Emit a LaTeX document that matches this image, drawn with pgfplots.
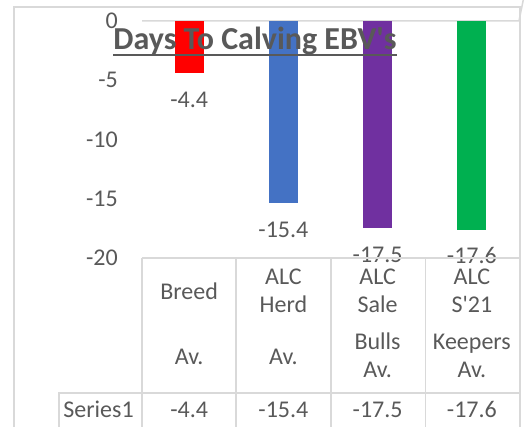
\documentclass[border=0pt]{standalone}
\usepackage{pgfplots}
\pgfplotsset{compat=1.18}
\usepackage{fontspec}
\setmainfont{Carlito}
\definecolor{tg}{HTML}{595959}
\definecolor{lg}{HTML}{D9D9D9}
\definecolor{cred}{HTML}{FF0000}
\definecolor{cblue}{HTML}{4472C4}
\definecolor{cpurple}{HTML}{7030A0}
\definecolor{cgreen}{HTML}{00B050}
\newcommand{\tf}{\fontsize{24}{28}\selectfont}
\tikzset{hdr/.style={anchor=base, font=\tf, text=tg, inner sep=0pt}}
\begin{document}
\begin{tikzpicture}
\useasboundingbox (0pt,0pt) rectangle (525pt,427pt);
% outer chart border
\draw[lg, line width=2pt] (14pt,0pt) -- (14pt,420pt) -- (520pt,420pt) -- (520pt,0pt);
\begin{axis}[
  at={(142pt,169pt)}, anchor=south west,
  scale only axis, width=377pt, height=237pt,
  xmin=-0.5, xmax=3.5, ymin=-20, ymax=0,
  axis line style={draw=none},
  xtick=\empty,
  ytick={-20,-15,-10,-5,0},
  major tick length=0pt,
  /pgf/number format/assume math mode=true,
  yticklabel style={font=\tf, text=tg, anchor=east, inner sep=0pt, xshift=-24pt},
  ybar, bar width=29pt,
  clip=false,
  nodes near coords={\pgfmathprintnumber[fixed,fixed zerofill,precision=1]{\pgfplotspointmeta}},
  nodes near coords align={anchor=base,yshift=-34pt},
  every node near coord/.append style={font=\tf, text=tg, inner sep=0pt},
]
\draw[lg, line width=1.5pt] (rel axis cs:0,1) -- (rel axis cs:1,1) -- ++(1pt,0);
\addplot[fill=cred, draw=none, bar shift=0pt] coordinates {(0,-4.4)};
\addplot[fill=cblue, draw=none, bar shift=0pt] coordinates {(1,-15.4)};
\addplot[fill=cpurple, draw=none, bar shift=0pt] coordinates {(2,-17.5)};
\addplot[fill=cgreen, draw=none, bar shift=0pt] coordinates {(3,-17.6)};
% data table header
\node[hdr, yshift=-42pt] at (axis cs:0,-20) {Breed};
\node[hdr, yshift=-107pt] at (axis cs:0,-20) {Av.};
\node[hdr, yshift=-27pt] at (axis cs:1,-20) {ALC};
\node[hdr, yshift=-55pt] at (axis cs:1,-20) {Herd};
\node[hdr, yshift=-107pt] at (axis cs:1,-20) {Av.};
\node[hdr, yshift=-27pt] at (axis cs:2,-20) {ALC};
\node[hdr, yshift=-55pt] at (axis cs:2,-20) {Sale};
\node[hdr, yshift=-92pt] at (axis cs:2,-20) {Bulls};
\node[hdr, yshift=-120pt] at (axis cs:2,-20) {Av.};
\node[hdr, yshift=-27pt] at (axis cs:3,-20) {ALC};
\node[hdr, yshift=-55pt] at (axis cs:3,-20) {S\textquotesingle21};
\node[hdr, yshift=-92pt] at (axis cs:3,-20) {Keepers};
\node[hdr, yshift=-120pt] at (axis cs:3,-20) {Av.};
% data table values
\node[hdr, yshift=-160pt] at (axis cs:0,-20) {-4.4};
\node[hdr, yshift=-160pt] at (axis cs:1,-20) {-15.4};
\node[hdr, yshift=-160pt] at (axis cs:2,-20) {-17.5};
\node[hdr, yshift=-160pt] at (axis cs:3,-20) {-17.6};
\end{axis}
% data table grid
\draw[lg, line width=1.5pt] (142pt,169pt) -- (520pt,169pt);
\foreach \xx in {142,236,331,425.5} {\draw[lg, line width=1.5pt] (\xx pt,169pt) -- (\xx pt,0pt);}
\draw[lg, line width=1.5pt] (59pt,0pt) -- (59pt,34pt) -- (520pt,34pt);
\node[hdr] at (98.5pt,9pt) {Series1};
% title
\node[anchor=base, font=\bfseries\fontsize{32}{38}\selectfont, text=tg, inner sep=0pt] (t) at (255pt,377.5pt) {Days To Calving EBV\textquotesingle s};
\draw[tg, line width=2.2pt] ([yshift=-5.5pt]t.base west) -- ([yshift=-5.5pt]t.base east);
\end{tikzpicture}
\end{document}
